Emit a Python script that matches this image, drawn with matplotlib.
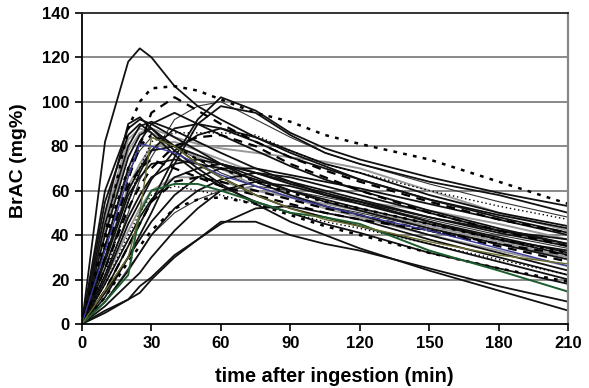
import matplotlib
matplotlib.use("Agg")
import matplotlib.pyplot as plt

plt.rcParams['font.family'] = ['Liberation Sans', 'DejaVu Sans']

# sampling times (min)
times = [0, 10, 20, 25, 30, 40, 50, 60, 75, 90, 105, 120, 150, 180, 210]

# BrAC (mg%) curves, grouped by line style
black_solid = [
    [0, 82, 118, 124, 120, 107, 98, 92, 84, 77, 71, 65, 56, 49, 43],
    [0, 15, 35, 45, 55, 75, 92, 102, 96, 86, 79, 74, 66, 59, 53],
    [0, 12, 30, 40, 50, 72, 90, 98, 95, 85, 77, 72, 64, 58, 50],
    [0, 50, 90, 93, 88, 78, 70, 63, 54, 46, 40, 34, 24, 15, 6],
    [0, 6, 11, 14, 20, 30, 38, 46, 46, 40, 36, 33, 25, 17, 10],
    [0, 5, 11, 17, 21, 31, 38, 45, 52, 53, 50, 47, 38, 30, 22],
    [0, 60, 88, 92, 90, 84, 78, 72, 64, 58, 53, 49, 40, 32, 24],
    [0, 45, 80, 89, 91, 87, 82, 77, 70, 64, 58, 54, 46, 39, 32],
    [0, 35, 70, 82, 90, 95, 90, 85, 78, 71, 65, 60, 51, 43, 36],
    [0, 25, 55, 68, 78, 88, 90, 88, 82, 75, 70, 65, 56, 48, 41],
    [0, 20, 45, 55, 65, 78, 85, 88, 84, 78, 72, 68, 58, 50, 44],
    [0, 30, 60, 70, 78, 80, 76, 72, 66, 60, 55, 51, 43, 36, 29],
    [0, 18, 38, 48, 56, 66, 70, 72, 68, 64, 60, 56, 48, 41, 35],
    [0, 10, 24, 32, 40, 52, 60, 65, 68, 66, 62, 58, 50, 42, 36],
    [0, 8, 18, 23, 30, 42, 52, 60, 64, 62, 58, 55, 46, 38, 31],
    [0, 40, 75, 85, 88, 80, 72, 66, 58, 52, 48, 44, 36, 28, 20],
    [0, 55, 85, 90, 86, 76, 68, 62, 55, 50, 45, 41, 32, 25, 18],
    [0, 28, 58, 66, 72, 74, 72, 70, 65, 60, 56, 52, 45, 38, 33],
    [0, 22, 48, 58, 66, 72, 74, 72, 68, 63, 59, 55, 48, 42, 38],
    [0, 14, 30, 38, 46, 58, 66, 70, 70, 67, 64, 61, 54, 47, 40],
]
gray_solid = [
    [0, 42, 78, 86, 88, 84, 81, 79, 77, 75, 73, 70, 60, 50, 42],
    [0, 30, 62, 72, 80, 82, 78, 74, 68, 63, 58, 55, 51, 45, 38],
    [0, 20, 42, 52, 60, 66, 66, 64, 60, 57, 54, 51, 44, 37, 30],
    [0, 48, 83, 88, 86, 80, 75, 70, 62, 57, 52, 48, 40, 33, 26],
]
bold_dotted = [
    [0, 40, 88, 100, 106, 107, 105, 101, 95, 91, 85, 81, 74, 64, 54],
    [0, 38, 70, 80, 85, 80, 74, 70, 64, 59, 55, 52, 45, 38, 32],
    [0, 12, 28, 35, 42, 52, 56, 57, 54, 49, 44, 40, 32, 25, 19],
]
dashed = [
    [0, 30, 65, 80, 95, 102, 96, 90, 82, 75, 69, 64, 55, 47, 41],
    [0, 25, 52, 62, 70, 80, 84, 85, 80, 72, 66, 60, 50, 42, 35],
    [0, 15, 35, 45, 55, 64, 66, 64, 60, 56, 52, 49, 42, 35, 28],
    [0, 35, 62, 70, 74, 70, 66, 62, 58, 54, 50, 47, 42, 36, 31],
]
thin_dotted = [
    [0, 22, 55, 70, 82, 86, 86, 86, 85, 78, 72, 68, 60, 53, 47],
    [0, 18, 40, 50, 58, 62, 60, 58, 54, 50, 46, 43, 36, 29, 22],
]
thin_solid = [
    [0, 20, 50, 65, 75, 92, 98, 100, 92, 84, 77, 72, 63, 55, 48],
    [0, 10, 25, 32, 40, 50, 56, 60, 62, 60, 57, 54, 47, 40, 34],
    [0, 35, 68, 78, 84, 80, 74, 68, 62, 57, 53, 50, 43, 36, 30],
]
blue_curve = [0, 33, 66, 81, 80, 77, 72, 67, 62, 57, 53, 49, 42, 34, 26]
green_curve = [0, 10, 22, 50, 60, 63, 63, 60, 55, 50, 48, 45, 33, 24, 14.5]
olive_curve = [0, 15, 30, 50, 84, 80, 72, 66, 58, 52, 47, 44, 37, 31, 27]

x_ticks = [0, 30, 60, 90, 120, 150, 180, 210]
y_ticks = [0, 20, 40, 60, 80, 100, 120, 140]

fig = plt.figure(figsize=(5.89, 3.88), dpi=100)
ax = fig.add_axes([0.139, 0.165, 0.826, 0.802])

for yv in y_ticks[1:-1]:
    ax.axhline(yv, color='#808080', lw=1.3, zorder=0)

for c in thin_solid:
    ax.plot(times, c, color='#333333', lw=0.8)
for c in gray_solid:
    ax.plot(times, c, color='#999999', lw=1.4)
for c in black_solid:
    ax.plot(times, c, color='#111111', lw=1.3)
for c in thin_dotted:
    ax.plot(times, c, color='black', lw=1.0, linestyle=(0, (1, 2)))
for c in bold_dotted:
    ax.plot(times, c, color='black', lw=1.8, linestyle=(0, (1.5, 2.5)))
for c in dashed:
    ax.plot(times, c, color='black', lw=1.6, linestyle=(0, (4, 3)))
ax.plot(times, blue_curve, color='#3a3a9a', lw=1.0)
ax.plot(times, green_curve, color='#1d5c2e', lw=1.4)
ax.plot(times, olive_curve, color='#6b6b30', lw=1.0)

ax.set_xlim(0, 210)
ax.set_ylim(0, 140)
ax.set_xticks(x_ticks)
ax.set_yticks(y_ticks)
ax.set_xticklabels([str(v) for v in x_ticks], fontweight='bold', fontsize=12)
ax.set_yticklabels([str(v) for v in y_ticks], fontweight='bold', fontsize=12)
ax.tick_params(axis='both', direction='out', length=5, width=1.2, color='black', pad=4)

for s in ['left', 'bottom']:
    ax.spines[s].set_color('black')
    ax.spines[s].set_linewidth(1.3)
ax.spines['top'].set_color('#222222')
ax.spines['top'].set_linewidth(1.3)
ax.spines['right'].set_color('#888888')
ax.spines['right'].set_linewidth(1.6)

fig.text(0.568, 0.029, 'time after ingestion (min)', fontweight='bold', fontsize=14.4,
         ha='center', va='center')
fig.text(0.031, 0.586, 'BrAC (mg%)', fontweight='bold', fontsize=14,
         ha='center', va='center', rotation=90)

fig.savefig('out.png', dpi=100)
